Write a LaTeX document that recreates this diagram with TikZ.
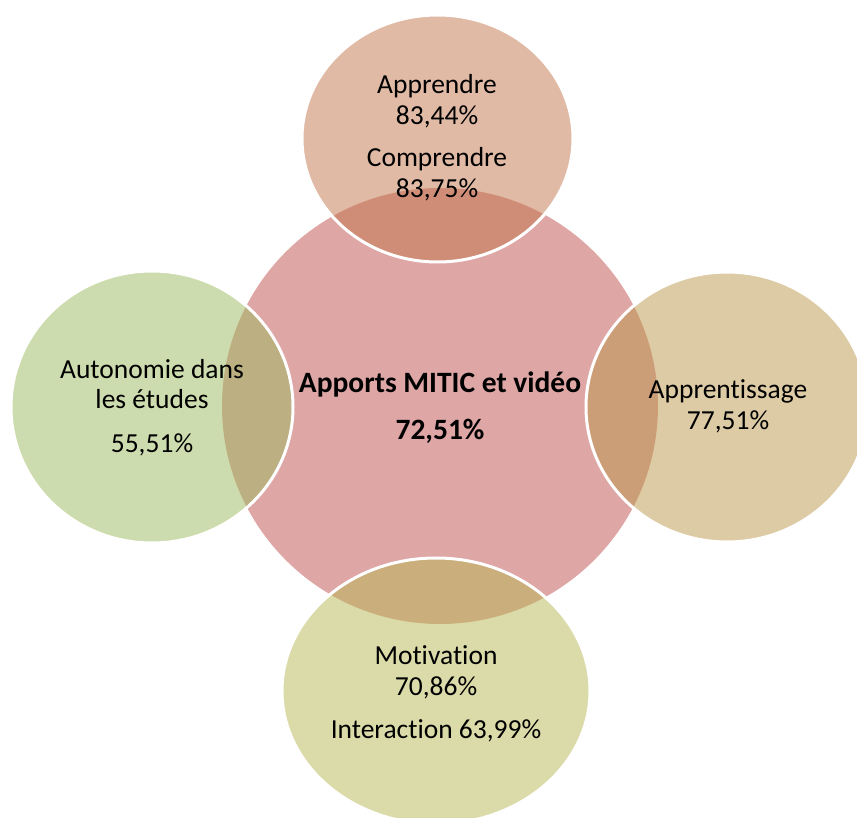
\documentclass[tikz,border=0pt]{standalone}
\usepackage{fontspec}
\setmainfont{Carlito}[Ligatures={NoCommon}]
\usetikzlibrary{shapes.geometric}
\definecolor{cen}{RGB}{223,166,166}
\definecolor{topc}{RGB}{193,117,75}
\definecolor{leftc}{RGB}{155,185,93}
\definecolor{rightc}{RGB}{187,151,75}
\definecolor{botc}{RGB}{183,183,83}
\begin{document}
\begin{tikzpicture}[x=1pt,y=-1pt,
  sat/.style={ellipse, draw=white, line width=3pt, fill opacity=0.5, draw opacity=1, inner sep=0pt, outer sep=0pt},
  lbl/.style={anchor=base, inner sep=0pt, font=\fontsize{27.5}{32}\selectfont, text=black},
  blbl/.style={lbl, font=\fontsize{29.5}{34}\selectfont\bfseries}]
\useasboundingbox (0,0) rectangle (857,818);
\clip (0,0) rectangle (857,818);
\node[circle, fill=cen, minimum size=436pt, inner sep=0pt] (center) at (440,406) {};
\node[sat, fill=topc, minimum width=271pt, minimum height=247pt] (top) at (437.5,138.5) {};
\node[sat, fill=leftc, minimum width=282pt, minimum height=272pt] (left) at (152,407) {};
\node[sat, fill=rightc, minimum width=282pt, minimum height=270pt] (right) at (727,407) {};
\node[sat, fill=botc, minimum width=308pt, minimum height=266pt] (bottom) at (436,691) {};
% texts
\node[lbl] (t1) at (437,94) {Apprendre};
\node[lbl] (t2) at (437,125) {83,44\%};
\node[lbl] (t3) at (437,167) {Comprendre};
\node[lbl] (t4) at (437,198) {83,75\%};
\node[blbl] (c1) at (440,392) {Apports MITIC et vidéo};
\node[blbl] (c2) at (440,439) {72,51\%};
\node[lbl] (l1) at (152,378) {Autonomie dans};
\node[lbl] (l2) at (152,408) {les études};
\node[lbl] (l3) at (152,452) {55,51\%};
\node[lbl] (r1) at (728,398) {Apprentissage};
\node[lbl] (r2) at (728,429) {77,51\%};
\node[lbl] (b1) at (436,664) {Motivation};
\node[lbl] (b2) at (436,695) {70,86\%};
\node[lbl] (b3) at (436,738) {Interaction 63,99\%};
\end{tikzpicture}
\end{document}
